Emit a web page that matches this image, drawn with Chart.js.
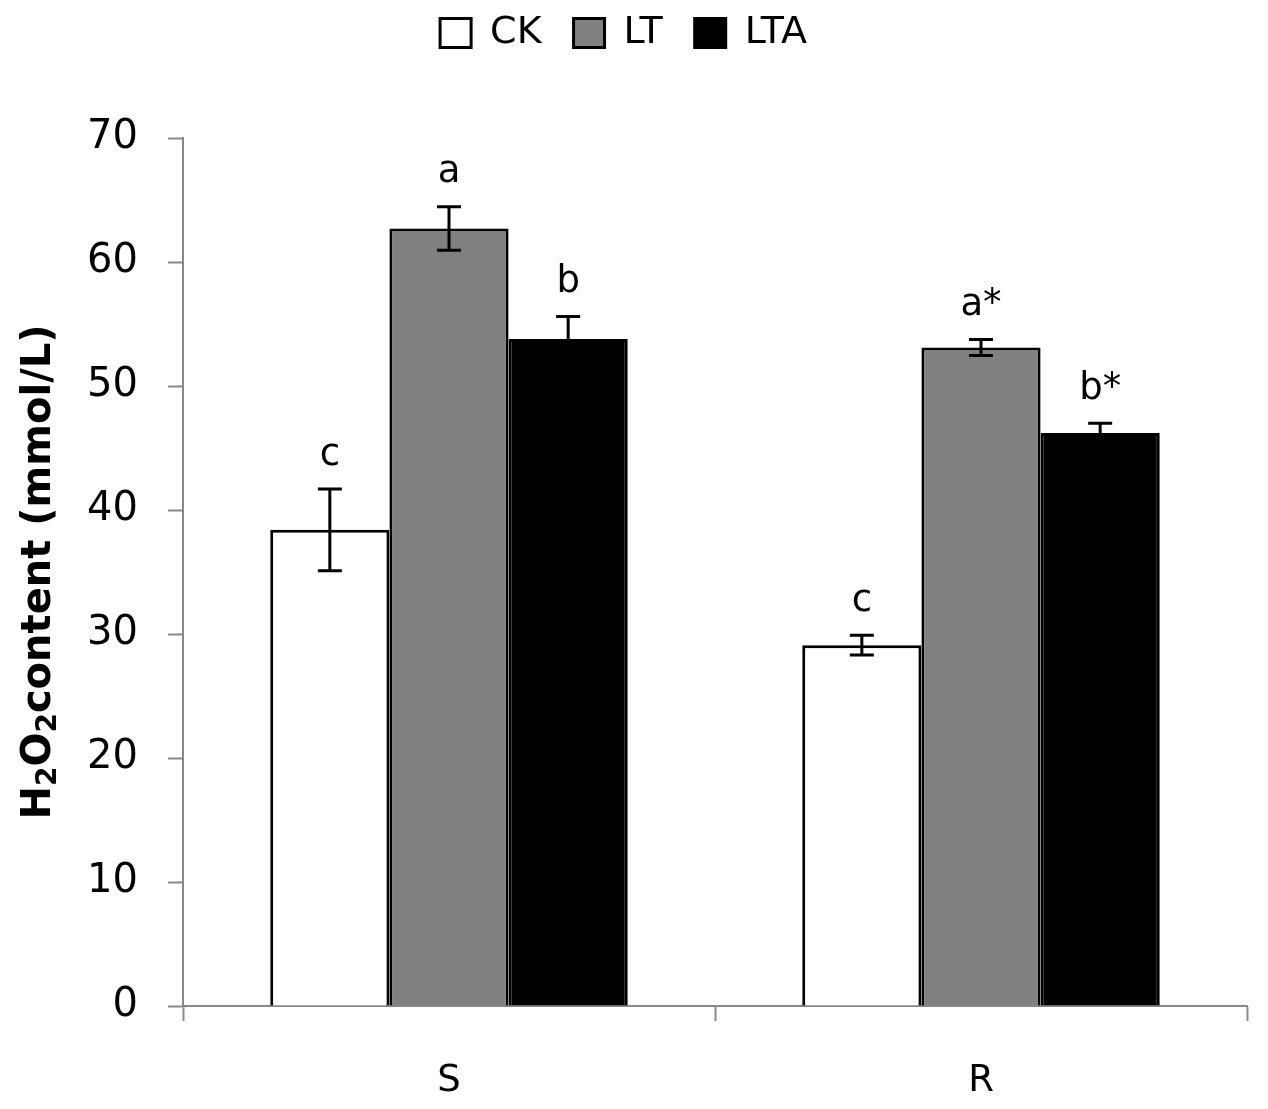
<!DOCTYPE html>
<html>
<head>
<meta charset="utf-8">
<script src="https://cdn.jsdelivr.net/npm/chart.js@4.4.0/dist/chart.umd.min.js"></script>
<style>
  html, body { margin: 0; padding: 0; background: #ffffff; }
  #wrap { width: 1268px; height: 1109px; }
</style>
</head>
<body>
<div id="wrap"><canvas id="h2o2Chart" width="1268" height="1109"></canvas></div>
<script>
// values
const categories = ['S', 'R'];
const seriesNames = ['CK', 'LT', 'LTA'];
const ckValues = [38.4, 29.1];
const ltValues = [62.7, 53.1];
const ltaValues = [53.8, 46.2];
const ckErrors = [3.3, 0.8];
const ltErrors = [1.75, 0.65];
const ltaErrors = [1.8, 0.8];
const ckLetters = ['c', 'c'];
const ltLetters = ['a', 'a*'];
const ltaLetters = ['b', 'b*'];
const yMin = 0;
const yMax = 70;
const yStep = 10;

const FONT = "'DejaVu Sans', Verdana, sans-serif";
const AXIS_GREY = '#888888';

// error bars + significance letters
const errorBarPlugin = {
    id: 'errorBars',
    afterDatasetsDraw(chart) {
        const ctx = chart.ctx;
        const yScale = chart.scales.y;
        chart.data.datasets.forEach((ds, i) => {
            const meta = chart.getDatasetMeta(i);
            meta.data.forEach((bar, j) => {
                const v = ds.data[j];
                const e = ds.errors[j];
                const yTop = yScale.getPixelForValue(v + e);
                const yBot = yScale.getPixelForValue(v - e);
                const half = 12;
                ctx.save();
                ctx.strokeStyle = '#000000';
                ctx.lineWidth = 3;
                ctx.beginPath();
                ctx.moveTo(bar.x, yTop);
                ctx.lineTo(bar.x, yBot);
                ctx.moveTo(bar.x - half, yTop);
                ctx.lineTo(bar.x + half, yTop);
                ctx.moveTo(bar.x - half, yBot);
                ctx.lineTo(bar.x + half, yBot);
                ctx.stroke();

                ctx.fillStyle = '#000000';
                ctx.font = '37px ' + FONT;
                ctx.textAlign = 'center';
                ctx.textBaseline = 'middle';
                ctx.fillText(ds.letters[j], bar.x, yTop - 34);
                ctx.restore();
            });
        });
    }
};

// y-axis title with real subscripts
const yTitlePlugin = {
    id: 'yTitle',
    afterDraw(chart) {
        const ctx = chart.ctx;
        const area = chart.chartArea;
        const size = 40;
        const subSize = 28;
        const parts = [
            { t: 'H', sub: false },
            { t: '2', sub: true },
            { t: 'O', sub: false },
            { t: '2', sub: true },
            { t: 'content (mmol/L)', sub: false }
        ];
        ctx.save();
        let total = 0;
        parts.forEach(p => {
            ctx.font = 'bold ' + (p.sub ? subSize : size) + 'px ' + FONT;
            p.w = ctx.measureText(p.t).width;
            total += p.w;
        });
        ctx.translate(40, (area.top + area.bottom) / 2);
        ctx.rotate(-Math.PI / 2);
        ctx.fillStyle = '#000000';
        ctx.textAlign = 'left';
        ctx.textBaseline = 'middle';
        let x = -total / 2;
        parts.forEach(p => {
            ctx.font = 'bold ' + (p.sub ? subSize : size) + 'px ' + FONT;
            ctx.fillText(p.t, x, p.sub ? 9 : 0);
            x += p.w;
        });
        ctx.restore();
    }
};

// legend: wider item spacing, lifted up, extra room below it
const LEGEND_PAD = 32;
const LEGEND_LIFT = 18;
const legendSpacing = {
    id: 'legendSpacing',
    beforeInit(chart) {
        const legend = chart.legend;
        const origFit = legend.fit;
        legend.fit = function() {
            origFit.call(this);
            this.height += 94 - 2 * (LEGEND_PAD - 14);
        };
        const origDraw = legend.draw;
        legend.draw = function() {
            this.top -= LEGEND_LIFT;
            origDraw.apply(this, arguments);
            this.top += LEGEND_LIFT;
        };
    }
};

const ctx = document.getElementById('h2o2Chart').getContext('2d');
new Chart(ctx, {
    type: 'bar',
    data: {
        labels: categories,
        datasets: [{
            label: seriesNames[0],
            data: ckValues,
            errors: ckErrors,
            letters: ckLetters,
            backgroundColor: '#ffffff',
            borderColor: '#000000',
            borderWidth: 3
        }, {
            label: seriesNames[1],
            data: ltValues,
            errors: ltErrors,
            letters: ltLetters,
            backgroundColor: '#808080',
            borderColor: '#000000',
            borderWidth: 3
        }, {
            label: seriesNames[2],
            data: ltaValues,
            errors: ltaErrors,
            letters: ltaLetters,
            backgroundColor: '#000000',
            borderColor: '#000000',
            borderWidth: 3
        }]
    },
    options: {
        responsive: false,
        animation: false,
        devicePixelRatio: 1,
        layout: {
            padding: { top: 0, right: 21, bottom: 0, left: 0 }
        },
        datasets: {
            bar: {
                categoryPercentage: 0.672,
                barPercentage: 1.0
            }
        },
        plugins: {
            legend: {
                position: 'top',
                labels: {
                    font: { family: FONT, size: 38 },
                    color: '#000000',
                    boxWidth: 31,
                    boxHeight: 29,
                    padding: LEGEND_PAD
                }
            },
            tooltip: { enabled: false },
            title: { display: false }
        },
        scales: {
            x: {
                afterFit(scale) { scale.height = 103; },
                border: { color: AXIS_GREY, width: 2 },
                grid: {
                    offset: true,
                    drawOnChartArea: false,
                    drawTicks: true,
                    tickLength: 15,
                    tickWidth: 2,
                    tickColor: AXIS_GREY
                },
                ticks: {
                    font: { family: FONT, size: 37 },
                    color: '#000000',
                    padding: 38
                }
            },
            y: {
                min: yMin,
                max: yMax,
                afterFit(scale) { scale.width = 183; },
                border: { color: AXIS_GREY, width: 2 },
                grid: {
                    drawOnChartArea: false,
                    tickLength: 15,
                    tickWidth: 2,
                    tickColor: AXIS_GREY
                },
                ticks: {
                    stepSize: yStep,
                    font: { family: FONT, size: 40 },
                    color: '#000000',
                    padding: 30
                },
                title: { display: false }
            }
        }
    },
    plugins: [errorBarPlugin, yTitlePlugin, legendSpacing]
});
</script>
</body>
</html>
